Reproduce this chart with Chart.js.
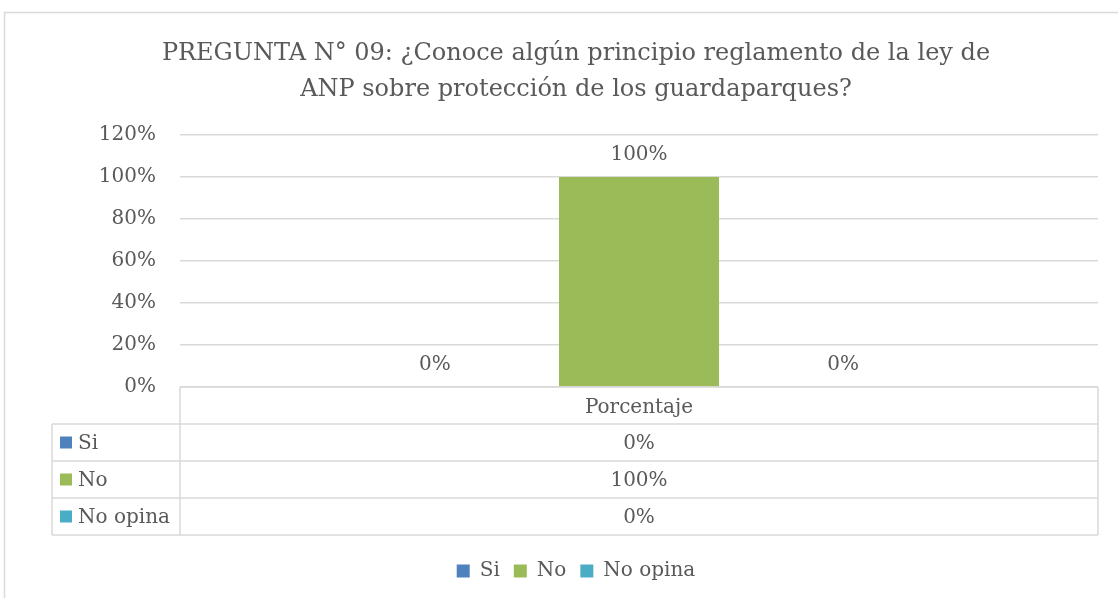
<!DOCTYPE html>
<html>
<head>
<meta charset="utf-8">
<script src="https://cdn.jsdelivr.net/npm/chart.js@4"></script>
<style>
html, body { margin: 0; padding: 0; background: #fff; }
#wrap { position: relative; width: 1118px; height: 598px; }
</style>
</head>
<body>
<div id="wrap"><canvas id="myChart" width="1118" height="598"></canvas></div>
<script>
// data
const categories = ['Porcentaje'];
const seriesNames = ['Si', 'No', 'No opina'];
const valuesSi = [0];
const valuesNo = [1];
const valuesNoOpina = [0];
const yMax = 1.2;
const yStep = 0.2;
const titleLines = [
    'PREGUNTA N° 09: ¿Conoce algún principio reglamento de la ley de',
    'ANP sobre protección de los guardaparques?'
];

const colors = ['#4F81BD', '#9BBB59', '#4BACC6'];
const textColor = '#595959';
const lineColor = '#D9D9D9';
const fontFamily = '"DejaVu Serif", serif';

const pct = v => Math.round(v * 100) + '%';

const seriesValues = [valuesSi, valuesNo, valuesNoOpina];

const data = {
    labels: categories,
    datasets: seriesNames.map((name, i) => ({
        label: name,
        data: seriesValues[i],
        backgroundColor: colors[i],
        borderWidth: 0,
        categoryPercentage: 0.667,
        barPercentage: 0.784
    }))
};

// white page + outer chart border
const frame = {
    id: 'frame',
    beforeDraw(chart) {
        const ctx = chart.ctx;
        ctx.save();
        ctx.fillStyle = '#fff';
        ctx.fillRect(0, 0, chart.width, chart.height);
        ctx.strokeStyle = lineColor;
        ctx.lineWidth = 1.5;
        ctx.strokeRect(4.5, 12.5, chart.width + 20, chart.height + 20);
        ctx.restore();
    }
};

// value labels above the bars
const barLabels = {
    id: 'barLabels',
    afterDatasetsDraw(chart) {
        const ctx = chart.ctx;
        ctx.save();
        ctx.font = '20px ' + fontFamily;
        ctx.fillStyle = textColor;
        ctx.textAlign = 'center';
        ctx.textBaseline = 'bottom';
        chart.data.datasets.forEach((ds, i) => {
            chart.getDatasetMeta(i).data.forEach((bar, j) => {
                ctx.fillText(pct(ds.data[j]), bar.x, bar.y - 12);
            });
        });
        ctx.restore();
    }
};

// excel style data table under the axis
const dataTable = {
    id: 'dataTable',
    afterDraw(chart) {
        const ctx = chart.ctx;
        const area = chart.chartArea;
        const left = 52;
        const mid = area.left;
        const right = area.right;
        const rowH = 37;
        const top = area.bottom;
        const nRows = seriesNames.length;
        const bottom = top + rowH * (nRows + 1);
        const cx = (mid + right) / 2;

        ctx.save();
        ctx.strokeStyle = lineColor;
        ctx.lineWidth = 1.5;
        ctx.beginPath();
        ctx.moveTo(mid, top); ctx.lineTo(mid, bottom);
        ctx.moveTo(right, top); ctx.lineTo(right, bottom);
        ctx.moveTo(left, top + rowH); ctx.lineTo(left, bottom);
        for (let r = 1; r <= nRows + 1; r++) {
            ctx.moveTo(left, top + rowH * r);
            ctx.lineTo(right, top + rowH * r);
        }
        ctx.moveTo(mid, top); ctx.lineTo(right, top);
        ctx.stroke();

        ctx.font = '20px ' + fontFamily;
        ctx.fillStyle = textColor;
        ctx.textBaseline = 'middle';
        ctx.textAlign = 'center';
        ctx.fillText(categories[0], cx, top + rowH / 2 + 2);

        chart.data.datasets.forEach((ds, i) => {
            const y = top + rowH * (i + 1) + rowH / 2;
            ctx.fillStyle = colors[i];
            ctx.fillRect(60, y - 6, 12, 12);
            ctx.fillStyle = textColor;
            ctx.textAlign = 'left';
            ctx.fillText(ds.label, 78, y + 1);
            ctx.textAlign = 'center';
            ctx.fillText(pct(ds.data[0]), cx, y + 1);
        });
        ctx.restore();
    }
};

const config = {
    type: 'bar',
    data: data,
    options: {
        responsive: false,
        animation: false,
        devicePixelRatio: 1,
        layout: {
            padding: { left: 54, right: 20, top: 0, bottom: 7 }
        },
        scales: {
            x: {
                grid: { display: false },
                border: { display: false },
                ticks: { display: false },
                afterFit: scale => { scale.height = 160; }
            },
            y: {
                min: 0,
                max: yMax,
                ticks: {
                    stepSize: yStep,
                    callback: v => pct(v),
                    color: textColor,
                    font: { family: fontFamily, size: 20 },
                    padding: 24
                },
                grid: { color: lineColor, lineWidth: 1.5, drawTicks: false },
                border: { display: false },
                afterFit: scale => { scale.width = 126; }
            }
        },
        plugins: {
            title: {
                display: true,
                text: titleLines,
                color: textColor,
                font: { family: fontFamily, size: 24, weight: 'normal', lineHeight: 1.5 },
                padding: { top: 36, bottom: 27 }
            },
            legend: {
                position: 'bottom',
                labels: {
                    color: textColor,
                    font: { family: fontFamily, size: 20 },
                    boxWidth: 13,
                    boxHeight: 13,
                    padding: 14
                }
            },
            tooltip: { enabled: false }
        }
    },
    plugins: [frame, barLabels, dataTable]
};

const myChart = new Chart(
    document.getElementById('myChart'),
    config
);
</script>
</body>
</html>
